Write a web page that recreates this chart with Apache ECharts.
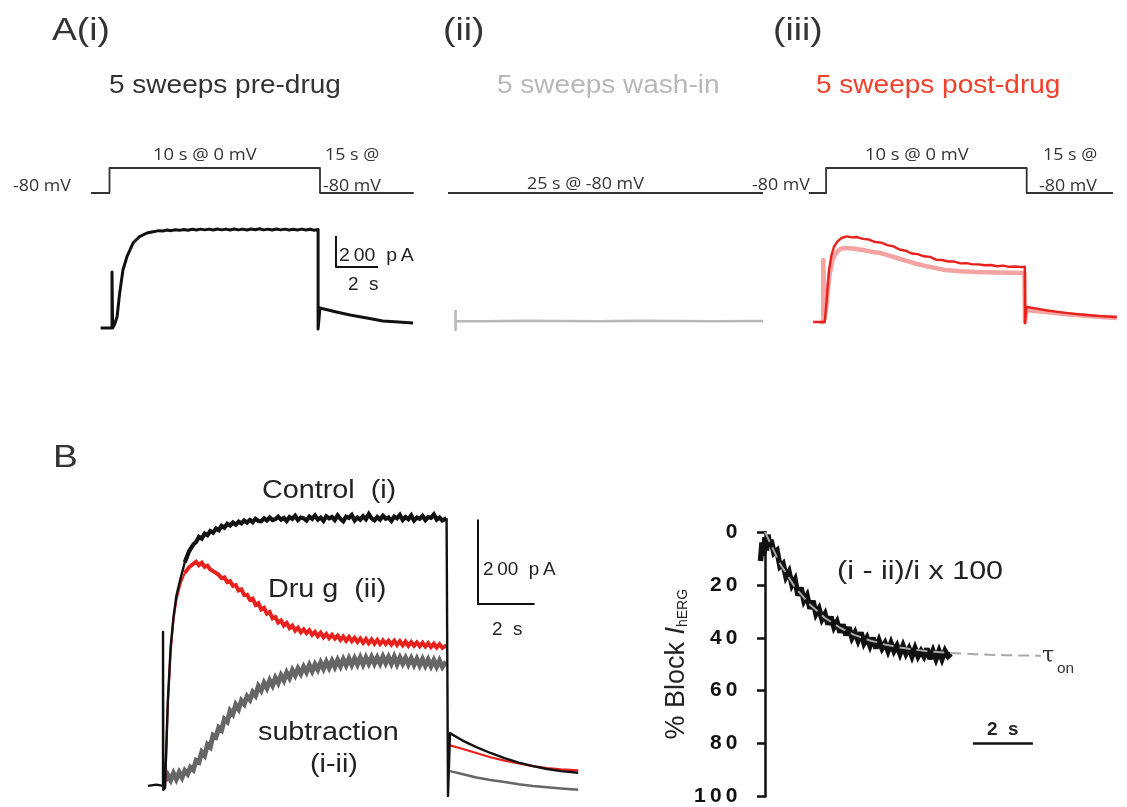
<!DOCTYPE html>
<html><head><meta charset="utf-8">
<script src="https://cdn.jsdelivr.net/npm/echarts@6/dist/echarts.min.js"></script>
<style>html,body{margin:0;padding:0;background:#fff}#c{width:1127px;height:807px}</style>
</head><body><div id="c"></div>
<script>
// ---------- DATA (time in s, current in pA, voltage in mV, block in %) ----------
const protoStepA = [[-0.88,-80],[0,-80],[0,0],[10,0],[10,-80],[14.45,-80]];
const protoHoldA2 = [[0,-80],[25,-80]];
const protoStepA3 = [[-0.86,-80],[0,-80],[0,0],[10,0],[10,-80],[14.3,-80]];

const preDrugA = [[-0.35,0],[0.19,0],[0.19,361],[0.22,0],[0.3,20],[0.43,71],[0.55,220],[0.71,374],[0.9,460],[1.19,548],[1.5,590],[1.85,613],[2.2,622],[2.4,628],[2.6,626],[2.8,632],[3.0,628],[3.2,634],[3.4,630],[3.6,636],[3.8,631],[4.0,637],[4.2,632],[4.4,638],[4.6,633],[4.8,638],[5.0,632],[5.2,639],[5.4,633],[5.6,638],[5.8,632],[6.0,639],[6.2,633],[6.4,638],[6.6,632],[6.8,639],[7.0,634],[7.2,640],[7.4,633],[7.6,638],[7.8,632],[8.0,639],[8.2,633],[8.4,638],[8.6,632],[8.8,637],[9.0,632],[9.2,638],[9.4,632],[9.6,637],[9.8,631],[9.98,635],[9.98,-6],[10.07,129],[10.8,105],[11.5,84],[12.3,64],[13.06,45],[13.8,38],[14.49,32]];
const washInA = [[0.6,116],[0.6,-13],[0.6,45],[3,44],[6,46],[9,45],[12,44],[15,46],[18,45],[21,44],[25,45]];
const postDrugPale = [[-0.1,0],[0.05,0],[0.05,400],[0.1,20],[0.2,100],[0.35,300],[0.5,400],[0.7,450],[0.9,472],[1.14,477],[1.5,474],[2.0,464],[2.5,452],[2.86,445],[3.3,428],[3.8,408],[4.48,381],[5.0,364],[5.5,350],[6.05,335],[6.8,328],[7.6,323],[8.5,320],[9.3,318],[9.95,316],[9.98,0],[10.05,77],[10.6,70],[11.3,60],[12.0,50],[12.8,42],[13.6,34],[14.5,26]];
const postDrugRed = [[-0.45,0],[0.12,0],[0.15,-10],[0.2,120],[0.33,335],[0.45,430],[0.57,484],[0.75,520],[0.95,542],[1.2,552],[1.45,546],[1.7,548],[2.0,536],[2.3,532],[2.6,516],[2.9,512],[3.2,496],[3.5,488],[3.8,468],[4.1,460],[4.4,442],[4.7,438],[5.0,424],[5.3,420],[5.6,402],[5.9,400],[6.2,390],[6.5,390],[6.8,378],[7.1,380],[7.4,372],[7.7,372],[8.0,366],[8.3,368],[8.6,360],[8.9,364],[9.2,356],[9.5,358],[9.8,354],[9.97,356],[9.98,-8],[10.05,97],[10.5,88],[11.0,76],[11.6,65],[12.3,54],[13.0,45],[13.7,38],[14.5,32]];
const scaleBarA = [[10.83,594],[10.83,394],[12.83,394]];

const controlRiseB = [[-0.6,0],[-0.3,3],[-0.07,0],[-0.07,365],[-0.06,-10],[0,-5],[0.1,200],[0.2,330],[0.3,400],[0.4,450],[0.55,492],[0.7,530],[0.85,556],[1.0,572]];
const controlB = [[0.7,530],[0.85,556],
 [1.0,572],[1.1,578],[1.2,590],[1.3,586],[1.4,598],[1.5,594],[1.6,604],[1.7,600],[1.8,610],[1.9,606],
 [2.0,616],[2.1,612],[2.2,621],[2.3,617],[2.4,624],[2.5,619],[2.6,626],[2.7,622],[2.8,629],[2.9,624],
 [3.0,630],[3.1,625],[3.2,633],[3.3,628],[3.4,627],[3.5,634],[3.6,629],[3.7,636],[3.8,630],[3.9,632],
 [4.0,638],[4.1,631],[4.2,635],[4.3,628],[4.4,637],[4.5,633],[4.6,640],[4.7,630],[4.8,636],[4.9,634],
 [5.0,629],[5.1,638],[5.2,633],[5.3,641],[5.4,631],[5.5,636],[5.6,628],[5.7,639],[5.8,634],[5.9,637],
 [6.0,630],[6.1,641],[6.2,633],[6.3,627],[6.4,638],[6.5,635],[6.6,642],[6.7,629],[6.8,636],[6.9,631],
 [7.0,639],[7.1,632],[7.2,644],[7.3,634],[7.4,629],[7.5,637],[7.6,631],[7.7,640],[7.8,633],[7.9,636],
 [8.0,628],[8.1,638],[8.2,634],[8.3,642],[8.4,630],[8.5,637],[8.6,632],[8.7,641],[8.8,629],[8.9,636],
 [9.0,633],[9.1,640],[9.2,630],[9.3,637],[9.4,635],[9.5,643],[9.6,631],[9.7,636],[9.8,629],[9.95,634]];
const controlTailB = [[9.95,634],[10.0,632],[10.0,-24],[10.07,125],[10.5,108],[11.0,92],[11.5,78],[12.0,66],[12.5,55],[13.0,47],[13.5,40],[14.0,35],[14.6,31]];
const drugRiseB = [[0,-5],[0.1,195],[0.2,320],[0.3,395],[0.4,440],[0.55,480],[0.7,505],[0.85,518],[1.0,526]];
const drugB = [[0.7,505],[0.85,518],
 [1.0,526],[1.1,531],[1.2,523],[1.3,529],[1.4,519],[1.5,522],[1.6,513],[1.7,509],[1.8,505],[1.9,500],
 [2.0,492],[2.1,494],[2.2,483],[2.3,485],[2.4,474],[2.5,476],[2.6,463],[2.7,466],[2.8,452],[2.9,453],
 [3.0,441],[3.1,444],[3.2,429],[3.3,433],[3.4,418],[3.5,422],[3.6,408],[3.7,412],[3.8,397],[3.9,400],
 [4.0,387],[4.1,392],[4.2,380],[4.3,386],[4.4,374],[4.5,380],[4.6,368],[4.7,375],[4.8,364],[4.9,371],
 [5.0,362],[5.1,369],[5.2,358],[5.3,365],[5.4,355],[5.5,363],[5.6,352],[5.7,360],[5.8,350],[5.9,358],
 [6.0,349],[6.1,356],[6.2,346],[6.3,354],[6.4,344],[6.5,353],[6.6,343],[6.7,351],[6.8,341],[6.9,349],
 [7.0,339],[7.1,348],[7.2,338],[7.3,347],[7.4,337],[7.5,346],[7.6,336],[7.7,345],[7.8,336],[7.9,344],
 [8.0,335],[8.1,344],[8.2,334],[8.3,343],[8.4,333],[8.5,342],[8.6,332],[8.7,341],[8.8,332],[8.9,340],
 [9.0,331],[9.1,339],[9.2,330],[9.3,338],[9.4,329],[9.5,337],[9.6,328],[9.7,336],[9.8,327],[9.95,333]];
const drugTailB = [[10.07,96],[10.5,88],[11.0,78],[11.5,68],[12.0,60],[12.5,53],[13.0,47],[13.5,42],[14.0,39],[14.6,37]];
const subtractionB = [
 [0.0,12],[0.1,26],[0.2,14],[0.3,30],[0.4,16],[0.5,32],[0.6,20],[0.7,36],[0.8,28],[0.9,44],
 [1.0,38],[1.1,60],[1.2,56],[1.3,80],[1.4,72],[1.5,98],[1.6,92],[1.7,120],[1.8,116],[1.9,138],
 [2.0,132],[2.1,158],[2.2,152],[2.3,178],[2.4,170],[2.5,192],[2.6,182],[2.7,202],[2.8,194],[2.9,212],
 [3.0,204],[3.1,222],[3.2,214],[3.3,236],[3.4,226],[3.5,244],[3.6,232],[3.7,250],[3.8,238],[3.9,256],
 [4.0,244],[4.1,262],[4.2,250],[4.3,268],[4.4,256],[4.5,274],[4.6,262],[4.7,278],[4.8,266],[4.9,282],
 [5.0,270],[5.1,286],[5.2,272],[5.3,288],[5.4,276],[5.5,292],[5.6,278],[5.7,294],[5.8,280],[5.9,296],
 [6.0,282],[6.1,298],[6.2,284],[6.3,300],[6.4,286],[6.5,302],[6.6,287],[6.7,302],[6.8,288],[6.9,304],
 [7.0,288],[7.1,304],[7.2,290],[7.3,305],[7.4,290],[7.5,304],[7.6,290],[7.7,306],[7.8,291],[7.9,305],
 [8.0,290],[8.1,306],[8.2,289],[8.3,304],[8.4,290],[8.5,303],[8.6,288],[8.7,302],[8.8,287],[8.9,301],
 [9.0,286],[9.1,300],[9.2,285],[9.3,299],[9.4,284],[9.5,298],[9.6,283],[9.7,297],[9.8,282],[9.93,294]];
const subtractionTailB = [[10.07,35],[10.5,28],[11.0,20],[11.5,14],[12.0,9],[12.5,4],[13.0,0],[13.5,-3],[14.0,-6],[14.6,-9]];
const scaleBarB = [[11.06,631],[11.06,431],[13.06,431]];

const blockTrace = [[-0.15,11],[-0.1,4],[-0.05,9],[0,2],[0.05,7],[0.1,1],[0.15,5],[0.2,3],[0.3,8],[0.4,7],[0.5,13],[0.6,12],[0.7,17],[0.8,15],[0.9,20],[1.0,18],[1.1,24],[1.2,21],[1.3,26],[1.4,24],[1.5,29],[1.6,26],[1.7,31],[1.8,29],[1.9,33],[2.0,31],[2.1,35],[2.2,32],[2.3,36],[2.4,34],[2.5,38],[2.6,35],[2.7,39],[2.8,36],[2.9,40],[3.0,38],[3.1,41],[3.2,38],[3.3,42],[3.4,40],[3.5,43],[3.6,40],[3.7,44],[3.8,41],[3.9,44],[4.0,42],[4.1,45],[4.2,42],[4.3,45],[4.4,43],[4.5,46],[4.6,43],[4.7,46],[4.8,44],[4.9,47],[5.0,44],[5.1,47],[5.2,45],[5.3,47],[5.4,44],[5.5,48],[5.6,45],[5.7,48],[5.8,45],[5.9,48],[6.0,45],[6.1,47],[6.2,46]];
const blockFit = [[0,0],[0.5,12.0],[1.0,20.9],[1.5,27.5],[2.0,32.5],[2.5,36.2],[3.0,39.0],[3.5,41.0],[4.0,42.5],[4.5,43.7],[5.0,44.5],[5.5,45.2],[6.0,45.6],[7.0,46.2],[8.0,46.6],[9.2,46.8]];
const blockTicks = [0,20,40,60,80,100];
const scaleBarBlock = [[6.93,80],[8.93,80]];

// ---------- LAYOUT ----------
function box(x0, y0, sx, sy, xr, yr){
  return {left: x0 + xr[0]*sx, top: y0 - yr[1]*sy, width: (xr[1]-xr[0])*sx, height: (yr[1]-yr[0])*sy};
}
const panels = [
  {g: box(109.5,168,21.05,0.3125,[-1,15],[-80,0]), xr:[-1,15], yr:[-80,0]},
  {g: box(108,328,21.05,0.155,[-1,15],[-50,700]), xr:[-1,15], yr:[-50,700]},
  {g: box(448,168,12.6,0.3125,[-0.5,25.5],[-80,0]), xr:[-0.5,25.5], yr:[-80,0]},
  {g: box(448,328,12.6,0.155,[-0.5,25.5],[-50,700]), xr:[-0.5,25.5], yr:[-50,700]},
  {g: box(827,168,21,0.3125,[-1,15],[-80,0]), xr:[-1,15], yr:[-80,0]},
  {g: box(823,322,21,0.155,[-1,15],[-50,700]), xr:[-1,15], yr:[-50,700]},
  {g: box(165,788,28.3,0.425,[-1,15.5],[-50,700]), xr:[-1,15.5], yr:[-50,700]},
  {g: {left: 765-0.65*30, top: 532, width: 10.65*30, height: 265}, xr:[-0.65,10], yr:[0,100]}
];
const FONT = 'Liberation Sans, Arial, sans-serif';
const grids = panels.map(p => Object.assign({containLabel:false}, p.g));
const xAxes = panels.map((p,i) => ({type:'value', gridIndex:i, min:p.xr[0], max:p.xr[1], show:false}));
const yAxes = panels.map((p,i) => ({type:'value', gridIndex:i, min:p.yr[0], max:p.yr[1], show:false}));
yAxes[7] = {
  type:'value', gridIndex:7, min:0, max:100, interval:20, inverse:true, show:true,
  axisLine:{show:true, lineStyle:{color:'#111', width:2.5}},
  axisTick:{show:true, length:8, lineStyle:{color:'#111', width:2.5}},
  splitLine:{show:false},
  axisLabel:{fontFamily:FONT, fontWeight:'bold', fontSize:21, color:'#111', margin:8,
    formatter: v => blockTicks.includes(v) ? String(v).split('').join('\u2009') : ''},
  name:'% Block {it|I}{sub|hERG}', nameLocation:'middle', nameRotate:90, nameGap:52,
  nameTextStyle:{fontFamily:FONT, fontSize:27, color:'#222',
    rich:{it:{fontFamily:FONT, fontSize:27, fontStyle:'italic', color:'#222'},
          sub:{fontFamily:FONT, fontSize:14, color:'#222', verticalAlign:'bottom', padding:[12,0,0,0]}}}
};

function line(data, gi, color, width, extra){
  return Object.assign({type:'line', data, xAxisIndex:gi, yAxisIndex:gi, showSymbol:false, symbol:'none',
    clip:false, animation:false, lineStyle:{color, width, join:'round'}}, extra||{});
}
function noisy(data, gi, color, width){
  return line(data, gi, color, width, {lineStyle:{color, width, join:'miter', miterLimit:3, cap:'butt'}});
}
const RED = '#e8211c', PALE = '#f3a4a2', BLK = '#111111', VCOL = '#333333', GRY = '#666666';
const series = [
  line(protoStepA,0,VCOL,1.8),
  line(preDrugA,1,BLK,3),
  line(scaleBarA,1,BLK,2),
  line(protoHoldA2,2,VCOL,1.8),
  line(washInA,3,'#b8b8b8',2.6),
  line(protoStepA3,4,VCOL,1.8),
  line(postDrugPale,5,PALE,4.5),
  line(postDrugRed,5,RED,2.4),
  noisy(subtractionB,6,GRY,5),
  line(subtractionTailB,6,GRY,2.5),
  line(drugRiseB,6,RED,2.2),
  noisy(drugB,6,RED,4),
  line(drugTailB,6,RED,2.2),
  line(controlRiseB,6,BLK,2.4),
  noisy(controlB,6,BLK,4.2),
  line(controlTailB,6,BLK,2.4),
  line(scaleBarB,6,BLK,2),
  noisy(blockTrace,7,BLK,5.5),
  line(blockFit,7,'#a8a8a8',2,{lineStyle:{color:'#a8a8a8', width:2, type:[11,6]}}),
  line(scaleBarBlock,7,BLK,2.5)
];

// texts: [text, x(left), y(middle), size, color, scaleX, family, weight]
const OS = 'Open Sans, Noto Sans, sans-serif';
const labels = [
  ['A(i)',52,31,31,'#333',1.2,FONT],
  ['(ii)',443,31,31,'#333',1.2,FONT],
  ['(iii)',773,31,31,'#333',1.2,FONT],
  ['5 sweeps pre-drug',109,86,25,'#333',1.12,FONT],
  ['5 sweeps wash-in',497,86,25,'#b8b8b8',1.12,FONT],
  ['5 sweeps post-drug',816,86,25,'#f0402c',1.12,FONT],
  ['-80 mV',13,186,17,'#333',1.05,OS],
  ['10 s @ 0 mV',153,155,17,'#333',1.08,OS],
  ['15 s @',325,155,17,'#333',1.05,OS],
  ['-80 mV',323,186,17,'#333',1.05,OS],
  ['25 s @ -80 mV',527,184,17,'#333',1.05,OS],
  ['-80 mV',752,185,17,'#333',1.05,OS],
  ['10 s @ 0 mV',865,155,17,'#333',1.08,OS],
  ['15 s @',1043,155,17,'#333',1.05,OS],
  ['-80 mV',1039,186,17,'#333',1.05,OS],
  ['2\u200900  p\u2009A',339,256,18,'#222',1.08,FONT],
  ['2  s',348,285,18,'#222',1.05,FONT],
  ['B',53,458,31,'#333',1.2,FONT],
  ['Control  (i)',262,491,25,'#222',1.15,FONT],
  ['Dru g  (ii)',268,590,25,'#222',1.15,FONT],
  ['subtraction',258,733,25,'#222',1.15,FONT],
  ['(i-ii)',310,765,25,'#222',1.15,FONT],
  ['2\u200900  p\u2009A',483,570,18,'#222',1.05,FONT],
  ['2  s',492,630,18,'#222',1.05,FONT],
  ['(i - ii)/i x 100',837,572,25,'#222',1.22,FONT],
  ['\u03c4',1042,656,22,'#333',1.0,'DejaVu Serif, serif'],
  ['on',1057,669,14,'#333',1.1,FONT],
  ['2  s',987,730,18,'#222',1.05,FONT,'bold']
];
const graphic = labels.map(l => ({type:'text', x:l[1], y:l[2], scaleX:l[5], z:100,
  style:{text:l[0], fontSize:l[3], fill:l[4], fontFamily:l[6], fontWeight:l[7]||'normal', align:'left', verticalAlign:'middle'}}));

const chart = echarts.init(document.getElementById('c'), null, {renderer:'canvas'});
chart.setOption({animation:false, backgroundColor:'#fff', grid:grids, xAxis:xAxes, yAxis:yAxes, series, graphic});
</script></body></html>
